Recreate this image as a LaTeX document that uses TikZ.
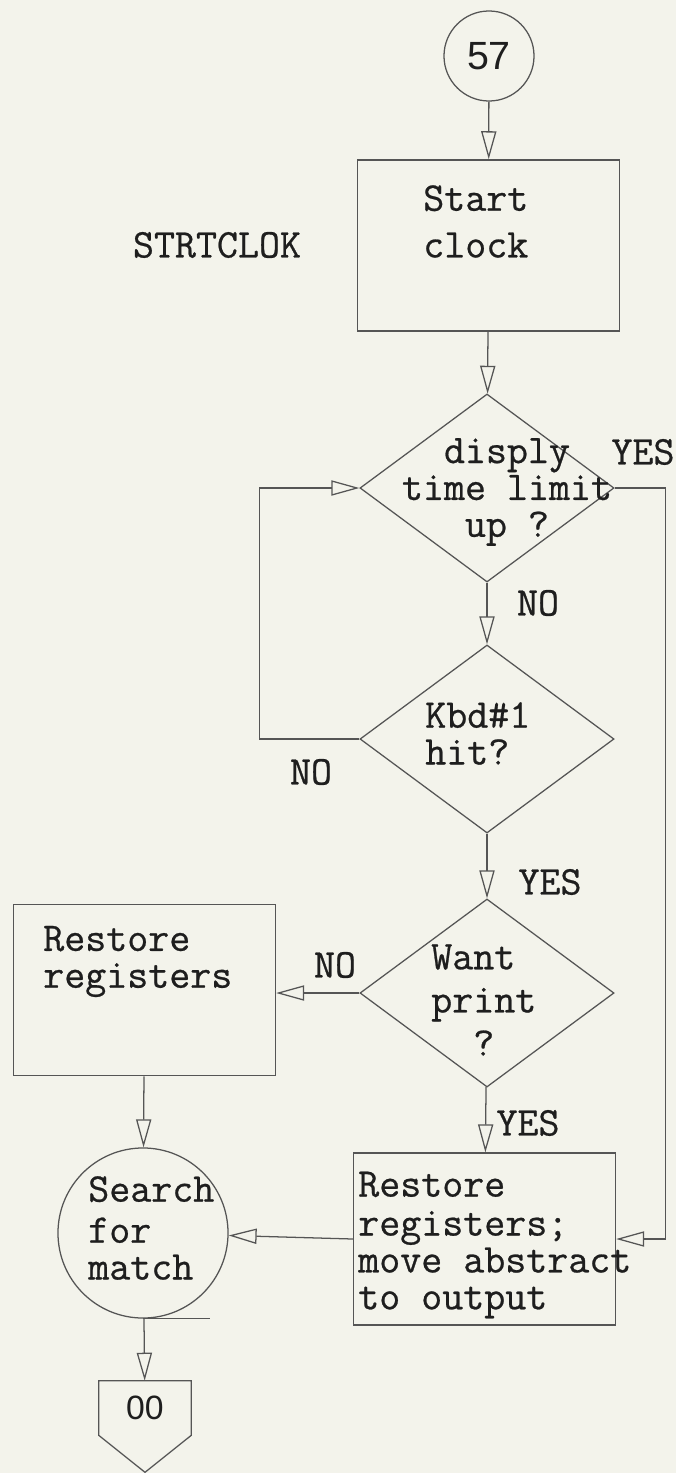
\documentclass[tikz,border=0pt]{standalone}
\usepackage{fontspec}
\setsansfont{Liberation Sans}
\newfontfamily\typed{Latin Modern Mono}[FakeBold=0.6]
\usetikzlibrary{
  arrows.meta,
  positioning,
  shapes.geometric,
  calc
}
\definecolor{paper}{RGB}{243,243,235}
\definecolor{ink}{RGB}{85,85,85}
\definecolor{type}{RGB}{30,30,30}

\begin{document}
\begin{tikzpicture}[
  x=0.025cm, y=-0.025cm,
  every node/.style={font=\typed\fontsize{29}{26.2}\selectfont, text=type},
  line/.style={draw=ink, line width=0.9pt},
  flow/.style={line, -{Triangle[open, length=0.7cm, width=0.38cm]}},
  procbox/.style={line, minimum width=6.55cm, minimum height=4.28cm},
  decision/.style={line, diamond, minimum width=6.35cm, minimum height=4.7cm,
                   inner sep=0pt},
  connector/.style={line, circle, inner sep=0pt,
                    font=\sffamily\fontsize{28}{28}\selectfont},
  txt/.style={align=left, inner sep=0pt, anchor=west},
  tag/.style={inner sep=0pt}
]

\useasboundingbox (0,0) rectangle (676,1473);
\fill[paper] (0,0) rectangle (676,1473);

% Entry and clock
\node[connector, minimum size=2.25cm] (n57) at (489,56) {57};
\node[procbox] (start) at (488.5,245.5) {};
\node[txt] (starttxt) at (423,221.5) {Start\\[7pt]clock};
\node[tag] (rtname) at (217,245) {STRTCLOK};

% Decisions
\node[decision] (d1) at (487,488) {};
\node[align=center, inner sep=0pt] (d1txt) at (507,492) {disply\\time limit\\up ?};

\node[decision] (d2) at (487,739) {};
\node[txt] (d2txt) at (425,733.5) {Kbd\#1\\hit?};

\node[decision] (d3) at (487,993) {};
\node[txt] (d3txt) at (431,1000) {Want\\[4.5pt]print\\[4.5pt]\hphantom{pr}?};

% Processing boxes
\node[procbox] (rest) at (144.5,990) {};
\node[txt] (resttxt) at (43,961.5) {Restore\\registers};

\node[procbox, minimum height=4.3cm] (move) at (484.5,1239) {};
\node[txt] (movetxt) at (358,1245)
  {Restore\\[1.5pt]registers;\\move abstract\\to output};

\node[connector, minimum size=4.25cm] (search) at (143,1233) {};
\node[txt] (searchtxt) at (88,1228) {Search\\[3pt]for\\match};

% Off-page connector
\node[inner sep=0pt, minimum width=2.3cm, minimum height=1.35cm,
      font=\sffamily\fontsize{24}{24}\selectfont] (n00) at (145,1408) {00};
\draw[line] (n00.north west) -- (n00.north east) -- (n00.south east)
  -- ($(n00.south)+(0,37)$) -- (n00.south west) -- cycle;

% Branch labels
\node[tag] (yes1) at (643,452) {YES};
\node[tag] (no1) at (538,603) {NO};
\node[tag] (no2) at (311,772) {NO};
\node[tag] (yes2) at (550,882) {YES};
\node[tag] (no3) at (335,965) {NO};
\node[tag] (yes3) at (528,1123) {YES};

% Flow lines
\draw[flow] (n57) -- (start);
\draw[flow] (start) -- (d1);
\draw[flow] (d1) -- (d2);
\draw[flow] (d2) -- (d3);
\draw[flow] (d3) -- (move);
\draw[flow] (d3.west) -- (rest.east |- d3.west);
\draw[flow] (rest) -- (search);
\draw[flow] (move.west) -- (search);
\draw[flow] (d2.west) -- ++(-100,0) |- (d1.west);
\draw[flow] (d1.east) -- ++(51,0) |- (move.east);
\draw[line] (search.south) -- ++(67,0);
\draw[flow] (search) -- (n00);

\end{tikzpicture}
\end{document}
